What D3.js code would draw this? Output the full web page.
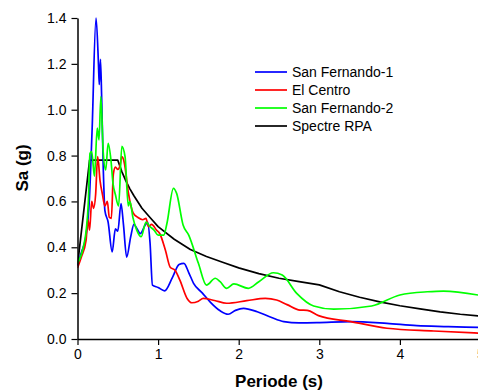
<!DOCTYPE html>
<html><head><meta charset="utf-8">
<script src="https://cdn.jsdelivr.net/npm/d3@7"></script>
<style>body{margin:0;background:#fff}svg{display:block;font-family:"Liberation Sans",Arial,sans-serif}</style>
</head><body><svg id="c" width="478" height="390"></svg>
<script>
const seriesNames = ["San Fernando-1","El Centro","San Fernando-2","Spectre RPA"];
const seriesColors = ["#0000ff","#ff0000","#00ff00","#000000"];
const xTicks = [0,1,2,3,4,5];
const yTicks = [0,0.2,0.4,0.6,0.8,1.0,1.2,1.4];

const sf1T = [0,0.05,0.10,0.147,0.18,0.23,0.26,0.27,0.285,0.30,0.32,0.34,0.38,0.43,0.47,0.50,0.54,0.57,0.61,0.66,0.70,0.74,0.78,0.84,0.87,0.90,0.93,1.0,1.08,1.18,1.26,1.32,1.38,1.44,1.55,1.65,1.77,1.87,1.96,2.06,2.23,2.4,2.56,2.75,2.97,3.39,3.84,4.21,4.6,5.0];
const sf1V = [0.32,0.38,0.44,0.606,0.90,1.40,1.20,1.11,1.22,1.05,0.74,0.56,0.51,0.38,0.48,0.47,0.59,0.50,0.357,0.446,0.50,0.48,0.46,0.497,0.51,0.42,0.235,0.225,0.21,0.27,0.325,0.33,0.29,0.243,0.20,0.16,0.123,0.108,0.125,0.134,0.119,0.095,0.076,0.07,0.071,0.076,0.068,0.058,0.054,0.05];

const elcT = [0,0.05,0.106,0.13,0.15,0.176,0.20,0.225,0.25,0.28,0.31,0.34,0.37,0.395,0.42,0.445,0.47,0.50,0.53,0.55,0.58,0.63,0.69,0.75,0.81,0.85,0.88,0.92,0.98,1.02,1.09,1.15,1.21,1.27,1.36,1.42,1.5,1.56,1.7,1.85,2.1,2.33,2.47,2.6,2.76,2.85,2.99,3.39,3.84,4.42,5.0];
const elcV = [0.31,0.36,0.43,0.52,0.475,0.60,0.57,0.63,0.795,0.69,0.63,0.58,0.60,0.53,0.526,0.72,0.75,0.74,0.76,0.795,0.77,0.64,0.55,0.53,0.52,0.526,0.49,0.50,0.475,0.46,0.388,0.313,0.30,0.257,0.177,0.158,0.165,0.177,0.168,0.156,0.167,0.177,0.17,0.15,0.126,0.125,0.102,0.076,0.047,0.035,0.025];

const sf2T = [0,0.072,0.11,0.134,0.155,0.176,0.21,0.245,0.267,0.29,0.32,0.35,0.38,0.415,0.44,0.47,0.51,0.55,0.59,0.63,0.65,0.69,0.735,0.79,0.85,0.9,0.95,1.0,1.07,1.11,1.19,1.23,1.31,1.38,1.5,1.6,1.71,1.77,1.85,1.94,2.12,2.25,2.43,2.54,2.72,2.93,3.18,3.65,4.0,4.34,4.54,5.0];
const sf2V = [0.33,0.40,0.48,0.593,0.81,0.817,0.71,0.92,0.868,1.057,0.81,0.737,0.853,0.78,0.68,0.63,0.58,0.84,0.795,0.58,0.60,0.526,0.475,0.446,0.51,0.49,0.475,0.453,0.453,0.505,0.657,0.635,0.497,0.453,0.33,0.235,0.265,0.25,0.221,0.24,0.221,0.25,0.289,0.279,0.199,0.144,0.13,0.144,0.192,0.206,0.209,0.19];

const rpaT = [0,0.15,0.5,0.55,0.6,0.65,0.7,0.8,0.9,1.0,1.2,1.4,1.6,1.8,2.0,2.25,2.5,2.75,3.0,3.25,3.5,3.75,4.0,4.25,4.5,4.75,5.0];
const rpaV = [0.32,0.78,0.78,0.73,0.69,0.655,0.625,0.57,0.53,0.49,0.435,0.39,0.36,0.335,0.31,0.285,0.265,0.25,0.236,0.206,0.182,0.162,0.145,0.131,0.118,0.108,0.10];

const svg = d3.select("#c");
const x = d3.scaleLinear().domain([0,5]).range([77.5,480.5]);
const y = d3.scaleLinear().domain([0,1.4]).range([339,18]);

svg.append("defs").append("clipPath").attr("id","clip")
  .append("rect").attr("x",77.5).attr("y",10).attr("width",403).attr("height",330);

const series = [
  {T:sf1T,V:sf1V,curve:d3.curveMonotoneX},
  {T:elcT,V:elcV,curve:d3.curveMonotoneX},
  {T:sf2T,V:sf2V,curve:d3.curveMonotoneX},
  {T:rpaT,V:rpaV,curve:d3.curveLinear}
];
const order = [3,0,1,2];
const g = svg.append("g").attr("clip-path","url(#clip)");
order.forEach(i=>{
  const s = series[i];
  const pts = s.T.map((t,k)=>[t,s.V[k]]);
  g.append("path").datum(pts)
    .attr("fill","none").attr("stroke",seriesColors[i]).attr("stroke-width",1.7)
    .attr("stroke-linejoin","round")
    .attr("d",d3.line().x(d=>x(d[0])).y(d=>y(d[1])).curve(s.curve));
});

const xa = svg.append("g").attr("transform","translate(0,339)")
  .call(d3.axisBottom(x).tickValues(xTicks).tickFormat(d3.format("d")).tickSize(6).tickSizeOuter(0).tickPadding(4));
const ya = svg.append("g").attr("transform","translate(77.5,0)")
  .call(d3.axisLeft(y).tickValues(yTicks).tickFormat(d3.format(".1f")).tickSize(6).tickSizeOuter(0).tickPadding(5));
[xa,ya].forEach(a=>{
  a.selectAll("path").attr("stroke","#000").attr("stroke-width",1.5);
  a.selectAll("line").attr("stroke","#000").attr("stroke-width",1.2);
  a.selectAll("text").attr("font-size",14).attr("fill","#000").attr("font-family","'Liberation Sans',Arial,sans-serif");
});

svg.append("text").attr("x",279).attr("y",387).attr("text-anchor","middle")
  .attr("font-size",17).attr("font-weight","bold").text("Periode (s)");
svg.append("text").attr("transform","translate(28,168) rotate(-90)").attr("text-anchor","middle")
  .attr("font-size",17).attr("font-weight","bold").text("Sa (g)");

const lg = svg.append("g");
seriesNames.forEach((n,i)=>{
  const yy = 72 + i*18;
  lg.append("line").attr("x1",255).attr("x2",287).attr("y1",yy).attr("y2",yy)
    .attr("stroke",seriesColors[i]).attr("stroke-width",1.7);
  lg.append("text").attr("x",292).attr("y",yy).attr("dy","0.35em")
    .attr("font-size",14).text(n);
});
</script></body></html>
